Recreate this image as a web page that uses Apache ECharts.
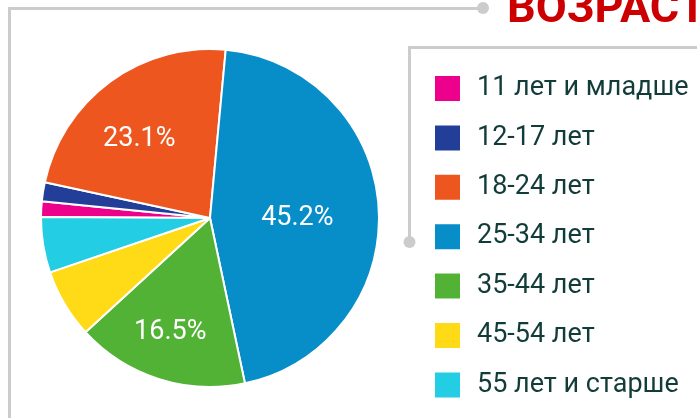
<!DOCTYPE html>
<html>
<head>
<meta charset="utf-8">
<script src="https://cdn.jsdelivr.net/npm/echarts@6/dist/echarts.min.js"></script>
<style>
  html, body { margin: 0; padding: 0; background: #fff; }
  #main { width: 697px; height: 418px; }
</style>
</head>
<body>
<div id="main"></div>
<script>
// age groups, share of audience (%)
var categories = ['11 лет и младше', '12-17 лет', '18-24 лет', '25-34 лет', '35-44 лет', '45-54 лет', '55 лет и старше'];
var values = [1.5, 1.8, 23.1, 45.2, 16.5, 6.6, 5.3];
var colors = ['#EC008C', '#233E98', '#EE561F', '#078DC7', '#52B236', '#FEDB16', '#23CDE4'];
var titleText = 'ВОЗРАСТ';

// only the big slices get a label, nudged a bit like in the original
var labelOffsets = { 2: [-19, -8], 3: [0, 5], 4: [-13, 31] };

var chart = echarts.init(document.getElementById('main'), null, { renderer: 'canvas' });

var pieData = categories.map(function (name, i) {
  var item = { name: name, value: values[i] };
  if (labelOffsets[i]) {
    item.label = { show: true, offset: labelOffsets[i] };
  } else {
    item.label = { show: false };
  }
  return item;
});

var frameColor = '#cccccc';

var option = {
  animation: false,
  color: colors,
  title: {
    text: titleText,
    left: 507,
    top: -12,
    padding: 0,
    textStyle: {
      fontFamily: 'Roboto',
      fontSize: 45,
      fontWeight: 'bold',
      color: '#CC0000'
    }
  },
  legend: {
    orient: 'vertical',
    left: 433,
    top: 74,
    padding: 0,
    icon: 'rect',
    itemWidth: 27,
    itemHeight: 27,
    itemGap: 20.4,
    selectedMode: false,
    textStyle: {
      fontFamily: 'Roboto',
      fontSize: 27,
      lineHeight: 27,
      color: '#123C3A',
      padding: [0, 0, 0, 11]
    },
    data: categories
  },
  graphic: [
    // outer frame with dot at the end of the top line
    { type: 'polyline', silent: true, shape: { points: [[9.5, 418], [9.5, 8.5], [483, 8.5]] }, style: { stroke: frameColor, lineWidth: 3, fill: null } },
    { type: 'circle', silent: true, shape: { cx: 483, cy: 8, r: 6 }, style: { fill: frameColor } },
    // legend frame
    { type: 'polyline', silent: true, shape: { points: [[697, 47.5], [409.5, 47.5], [409.5, 242]] }, style: { stroke: frameColor, lineWidth: 3, fill: null } },
    { type: 'circle', silent: true, shape: { cx: 409.5, cy: 242, r: 6 }, style: { fill: frameColor } }
  ],
  series: [{
    type: 'pie',
    center: [210, 218],
    radius: [0, 169],
    startAngle: 179.7,
    clockwise: true,
    silent: true,
    itemStyle: {
      borderColor: '#ffffff',
      borderWidth: 2
    },
    label: {
      position: 'inside',
      formatter: function (p) { return p.value.toFixed(1) + '%'; },
      fontFamily: 'Roboto',
      fontSize: 27,
      color: '#ffffff',
      textBorderWidth: 0
    },
    labelLine: { show: false },
    data: pieData
  }]
};

chart.setOption(option);
</script>
</body>
</html>
